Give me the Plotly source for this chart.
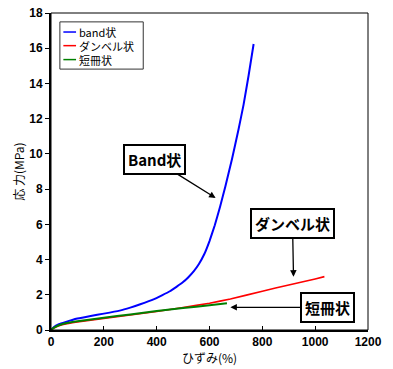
import plotly.graph_objects as go

band_x = [0, 10, 30, 54, 100, 150, 200, 260, 300, 338, 388, 420, 450, 475, 500, 520, 540, 560, 580, 600, 620, 640, 660, 685, 710, 729, 748, 767]
band_y = [0, 0.16, 0.33, 0.45, 0.65, 0.8, 0.93, 1.1, 1.27, 1.46, 1.74, 1.97, 2.2, 2.45, 2.72, 3.0, 3.33, 3.75, 4.3, 5.05, 5.95, 7.0, 8.15, 9.7, 11.4, 12.8, 14.45, 16.24]

dumbbell_x = [0, 10, 30, 60, 100, 200, 300, 400, 500, 600, 679, 800, 900, 1000, 1035]
dumbbell_y = [0, 0.1, 0.24, 0.36, 0.46, 0.66, 0.85, 1.05, 1.28, 1.52, 1.76, 2.2, 2.56, 2.9, 3.03]

strip_x = [0, 10, 30, 60, 100, 200, 300, 400, 500, 600, 666]
strip_y = [0, 0.12, 0.27, 0.4, 0.5, 0.7, 0.88, 1.08, 1.25, 1.4, 1.52]

names = ["band状", "ダンベル状", "短冊状"]
colors = ["#0000ff", "#ff0000", "#008000"]

jp = "Noto Sans CJK JP"

fig = go.Figure()
series = [(band_x, band_y, 2), (dumbbell_x, dumbbell_y, 1.6), (strip_x, strip_y, 2)]
for (xs, ys, w), nm, c in zip(series, names, colors):
    fig.add_trace(go.Scatter(x=xs, y=ys, name=nm, mode="lines", showlegend=False,
                             line=dict(color=c, width=w, shape="spline", smoothing=0.3)))

# manual legend (box, short line samples, labels)
leg_x0, leg_x1, leg_top, leg_bot = 0.028, 0.291, 0.972, 0.823
fig.add_shape(type="rect", xref="paper", yref="paper", x0=leg_x0, x1=leg_x1, y0=leg_bot, y1=leg_top,
              line=dict(color="#333333", width=1), fillcolor="white", layer="above")
row_y = [0.94, 0.897, 0.853]
for nm, c, ry in zip(names, colors, row_y):
    fig.add_shape(type="line", xref="paper", yref="paper", x0=0.039, x1=0.079, y0=ry, y1=ry,
                  line=dict(color=c, width=1.5), layer="above")
    fig.add_annotation(text=nm, xref="paper", yref="paper", x=0.082, y=ry, xanchor="left",
                       yanchor="middle", showarrow=False,
                       font=dict(family=jp, size=11, color="black"))

ann_font = dict(family=jp, size=15, color="black", weight="bold")
common = dict(showarrow=True, arrowhead=2, arrowsize=1, arrowwidth=1.3, arrowcolor="black",
              bordercolor="black", borderwidth=2, borderpad=3, bgcolor="white", font=ann_font,
              xref="x", yref="y", axref="pixel", ayref="pixel")
fig.add_annotation(text="Band状", x=623, y=7.5, ax=-61, ay=-38, **common)
fig.add_annotation(text="ダンベル状", x=918, y=3.03, ax=-1, ay=-53, **common)
fig.add_annotation(text="短冊状", x=679, y=1.29, ax=97, ay=0, **common)

fig.add_shape(type="rect", xref="paper", yref="paper", x0=0, y0=0, x1=1, y1=1,
              line=dict(color="black", width=1), layer="above")

fig.update_layout(
    width=393, height=369,
    margin=dict(l=51, r=25, t=13, b=39),
    paper_bgcolor="white", plot_bgcolor="white",
    showlegend=False,
    xaxis=dict(range=[0, 1200], dtick=200, showgrid=False, zeroline=False, automargin=False,
               showline=True, linecolor="black", linewidth=2,
               ticks="inside", ticklen=4, tickcolor="black",
               tickfont=dict(family="Liberation Sans", size=12, color="black", weight="bold"),
               title=dict(text="ひずみ(%)", font=dict(family=jp, size=12, color="black"), standoff=0)),
    yaxis=dict(range=[0, 18], dtick=2, showgrid=False, zeroline=False, automargin=False,
               showline=True, linecolor="black", linewidth=2,
               ticks="outside", ticklen=4, tickcolor="black",
               tickfont=dict(family="Liberation Sans", size=12, color="black", weight="bold"),
               title=dict(text="応 力(MPa)", font=dict(family=jp, size=12, color="black"), standoff=2)),
)

# remove the page's default 8px body margin so the figure sits at the window origin
fig.write_html("out.html", config={"displayModeBar": False},
               post_script="document.body.style.margin='0';document.body.style.overflow='hidden';")
